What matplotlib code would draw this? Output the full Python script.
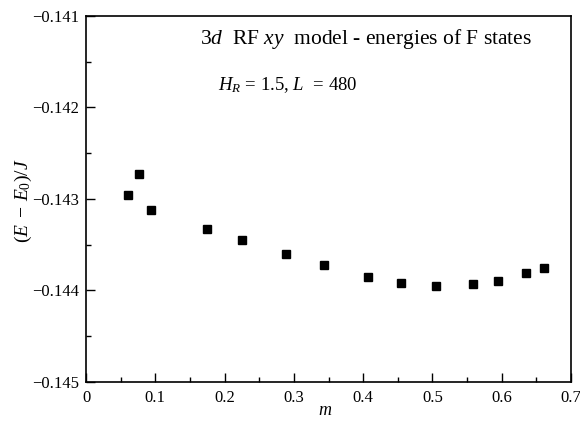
import matplotlib
matplotlib.use("Agg")
import matplotlib.pyplot as plt
from matplotlib.ticker import MultipleLocator, FuncFormatter

# m values and energies (E - E0)/J
m = [0.060, 0.0765, 0.094, 0.175, 0.225, 0.288, 0.343, 0.407, 0.4545,
     0.505, 0.558, 0.595, 0.635, 0.661]
energy = [-0.142953, -0.142723, -0.143117, -0.143331, -0.143452, -0.143608,
          -0.143721, -0.143856, -0.143921, -0.143951, -0.143936, -0.143903,
          -0.143812, -0.143761]

plt.rcParams["font.family"] = ["Liberation Serif", "DejaVu Serif"]
plt.rcParams["mathtext.fontset"] = "custom"
plt.rcParams["mathtext.rm"] = "Liberation Serif"
plt.rcParams["mathtext.it"] = "Liberation Serif:italic"

fig = plt.figure(figsize=(5.8, 4.25), dpi=100)
ax = fig.add_axes([0.1483, 0.1019, 0.8362, 0.8605])

ax.plot(m, energy, linestyle="none", marker="s", markersize=5.5, color="black")

ax.set_xlim(0, 0.7)
ax.set_ylim(-0.145, -0.141)
ax.xaxis.set_major_locator(MultipleLocator(0.1))
ax.xaxis.set_minor_locator(MultipleLocator(0.05))
ax.yaxis.set_major_locator(MultipleLocator(0.001))
ax.yaxis.set_minor_locator(MultipleLocator(0.0005))


def yfmt(v, pos):
    return f"{v:.3f}".replace("-", "\u2212")


def xfmt(v, pos):
    return "0" if abs(v) < 1e-9 else f"{v:.1f}"


ax.yaxis.set_major_formatter(FuncFormatter(yfmt))
ax.xaxis.set_major_formatter(FuncFormatter(xfmt))

ax.tick_params(which="both", direction="in", top=False, right=False,
               labelsize=12, width=1.0)
ax.tick_params(which="major", length=6.5)
ax.tick_params(which="minor", length=3.6)
ax.tick_params(axis="x", pad=6)
ax.tick_params(axis="y", pad=5)
for s in ax.spines.values():
    s.set_linewidth(1.2)

ax.set_xlabel("$m$", fontsize=13)
ax.set_ylabel("$(E\\ -\\,E_0)/J$", fontsize=14)
ax.xaxis.set_label_coords(0.493, -0.079)
ax.yaxis.set_label_coords(-0.13, 0.495)
ax.xaxis.label.set_va("center")
ax.yaxis.label.set_va("center")

ax.text(0.165, -0.141252, "$3d$  RF $xy$  model - energies of F states",
        fontsize=15.5, ha="left", va="center")
ax.text(0.19, -0.141754, "$H_R$ = 1.5, $L$  = 480", fontsize=13.5,
        ha="left", va="center")

fig.savefig("out.png", dpi=100)
